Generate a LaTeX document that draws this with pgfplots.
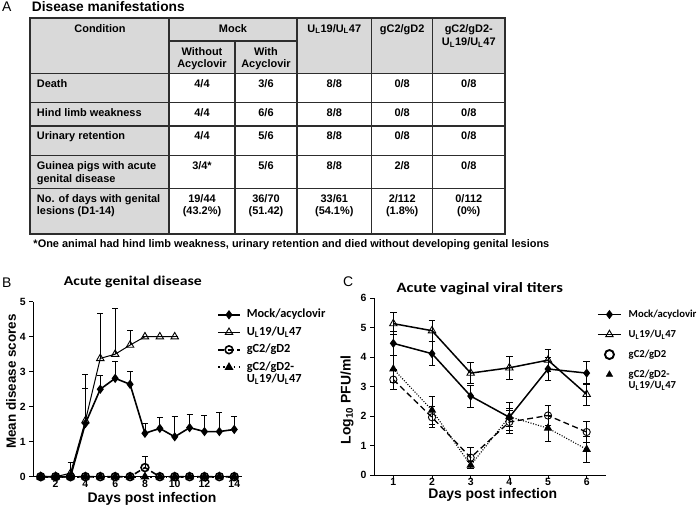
\documentclass[border=0pt]{standalone}
\usepackage{pgfplots}
\pgfplotsset{compat=1.18}
\usepackage{fontspec}
\setmainfont{Liberation Sans}
\newfontfamily\calib{Carlito}
\newfontfamily\calibw[FakeStretch=1.17]{Carlito}
\definecolor{tgray}{RGB}{217,217,217}
\definecolor{tline}{RGB}{45,45,45}
\begin{document}
\begin{tikzpicture}
\path[use as bounding box] (0,0) rectangle (700bp,514bp);
\begin{scope}[x=1bp,y=-1bp,yshift=514bp,
  tb/.style={font=\bfseries\fontsize{11}{13}\selectfont, inner sep=0pt, anchor=base},
  tl/.style={tb, anchor=base west}]
% panel labels and title
\node[anchor=base west, inner sep=0pt, font=\fontsize{14}{16}\selectfont] at (2,11.7) {A};
\node[anchor=base west, inner sep=0pt, font=\bfseries\fontsize{13.8}{16}\selectfont] at (31.7,11.7) {Disease manifestations};
\node[anchor=base west, inner sep=0pt, font=\fontsize{14}{16}\selectfont] at (2,288) {B};
\node[anchor=base west, inner sep=0pt, font=\fontsize{14}{16}\selectfont] at (343,287) {C};
% table
\fill[tgray] (30,18) rectangle (505,73.3);
\fill[tgray] (30,73.3) rectangle (169,234);
\begin{scope}[tline, line width=1.2bp]
\foreach \y in {73.3,102.3,126,155.7,188.7} \draw (30,\y) -- (505,\y);
\draw (169,41) -- (297,41);
\foreach \x in {169,297,371.7,432.7} \draw (\x,18) -- (\x,234);
\draw (235,41) -- (235,234);
\draw[line width=1.4bp] (30,18) rectangle (505,234);
\end{scope}
% header
\node[tb] at (100,32.3) {Condition};
\node[tb] at (233,32.3) {Mock};
\node[tb] at (334.3,32.3) {U\textsubscript{L}19/U\textsubscript{L}47};
\node[tb] at (402.2,32.3) {gC2/gD2};
\node[tb] at (468.8,32.3) {gC2/gD2-};
\node[tb] at (468.8,46) {U\textsubscript{L}19/U\textsubscript{L}47};
\node[tb] at (202,55.7) {Without};
\node[tb] at (202,67.5) {Acyclovir};
\node[tb] at (266,55.7) {With};
\node[tb] at (266,67.5) {Acyclovir};
% row labels
\node[tl] at (36.7,87.3) {Death};
\node[tl] at (36.7,116.7) {Hind limb weakness};
\node[tl] at (36.7,140) {Urinary retention};
\node[tl] at (36.7,169.3) {Guinea pigs with acute};
\node[tl] at (36.7,182.3) {genital disease};
\node[tl] at (36.7,202.7) {No. of days with genital};
\node[tl] at (36.7,215) {lesions (D1-14)};
% values
\foreach \a/\b/\c/\d/\e/\yy in {4/4/3/6/8/87.3, 4/4/6/6/8/116.7, 4/4/5/6/8/140}{
  \node[tb] at (202,\yy) {\a/\b};
  \node[tb] at (266,\yy) {\c/\d};
  \node[tb] at (334.3,\yy) {\e/8};
  \node[tb] at (402.2,\yy) {0/8};
  \node[tb] at (468.8,\yy) {0/8};
}
\node[tb] at (202,169.3) {3/4*};
\node[tb] at (266,169.3) {5/6};
\node[tb] at (334.3,169.3) {8/8};
\node[tb] at (402.2,169.3) {2/8};
\node[tb] at (468.8,169.3) {0/8};
\node[tb] at (202,202.7) {19/44};
\node[tb] at (202,215) {(43.2\%)};
\node[tb] at (266,202.7) {36/70};
\node[tb] at (266,215) {(51.42)};
\node[tb] at (334.3,202.7) {33/61};
\node[tb] at (334.3,215) {(54.1\%)};
\node[tb] at (402.2,202.7) {2/112};
\node[tb] at (402.2,215) {(1.8\%)};
\node[tb] at (468.8,202.7) {0/112};
\node[tb] at (468.8,215) {(0\%)};
\node[tl] at (33.3,248) {*One animal had hind limb weakness, urinary retention and died without developing genital lesions};
\end{scope}

% ---------------- Panel B ----------------
\begin{axis}[
  at={(33.3bp,37.3bp)}, anchor=south west, scale only axis,
  width=208.4bp, height=175bp,
  xmin=0.5, xmax=14.5, ymin=0, ymax=5,
  axis x line=bottom, axis y line=left,
  axis line style={-, line width=0.9bp, black},
  xtick={2,4,...,14}, ytick={0,...,5},
  tick align=outside, major tick length=4bp,
  tick style={line width=0.9bp, black},
  clip=false,
  tick label style={font=\bfseries\fontsize{10.5}{12}\selectfont},
  xticklabel style={yshift=4bp},
  /pgf/number format/assume math mode=true,
  title={Acute genital disease},
  title style={font=\calibw\bfseries\fontsize{13.5}{15}\selectfont, at={(axis description cs:0.4775,1.057)}, anchor=base, inner sep=0pt},
  xlabel={Days post infection},
  xlabel style={font=\bfseries\fontsize{14}{16}\selectfont, at={(axis description cs:0.5696,0)}, anchor=north, yshift=-15.8bp, inner sep=0pt},
  ylabel={Mean disease scores},
  ylabel style={font=\bfseries\fontsize{13.5}{16}\selectfont, at={(axis description cs:-0.107,0.544)}, anchor=center, inner sep=0pt},
  legend style={at={(axis description cs:0.8815,0.965)}, anchor=north west, draw=none, fill=none, inner sep=0pt,
    row sep=4bp, column sep=5bp, font=\calib\bfseries\fontsize{12.4}{12}\selectfont,
    nodes={inner sep=1bp, text height=8.8bp, text depth=2.7bp}},
  legend cell align=left,
  legend image code/.code={\draw[mark repeat=2,mark phase=2,#1] plot coordinates {(0bp,0bp) (11bp,0bp) (22bp,0bp)};},
  error bars/error bar style={line width=0.8bp, black, solid},
  error bars/error mark options={rotate=90, mark size=3bp, line width=0.8bp, black, solid},
]
\addplot[black, line width=1.6bp, mark=diamond*, mark size=3.4bp, mark options={solid},
  error bars/.cd, y dir=plus, y explicit] table[x=x, y=y, y error=e] {
x y e
1 0 0
2 0 0
3 0 0
4 1.52 1.0
5 2.50 0.40
6 2.81 0.48
7 2.64 0.36
8 1.24 0.28
9 1.38 0.31
10 1.14 0.59
11 1.40 0.38
12 1.29 0.45
13 1.29 0.55
14 1.35 0.36
};
\addlegendentry{Mock/acyclovir}
\addplot[black, line width=1.0bp, mark=triangle, mark size=4.3bp, mark options={solid, line width=0.9bp},
  error bars/.cd, y dir=plus, y explicit] table[x=x, y=y, y error=e] {
x y e
1 0 0
2 0 0
3 0.10 0.30
4 1.60 1.33
5 3.38 1.29
6 3.50 1.31
7 3.76 0.43
8 4.00 0
9 4.00 0
10 4.00 0
};
\addlegendentry{U\textsubscript{L}19/U\textsubscript{L}47}
\addplot[black, line width=1.6bp, dash pattern=on 6bp off 3.5bp, mark=o, mark size=3.9bp, mark options={solid, line width=1.6bp},
  error bars/.cd, y dir=plus, y explicit] table[x=x, y=y, y error=e] {
x y e
1 0 0
2 0 0
3 0 0
4 0 0
5 0 0
6 0 0
7 0 0
8 0.26 0.33
9 0 0
10 0 0
11 0 0
12 0 0
13 0 0
14 0 0
};
\addlegendentry{gC2/gD2}
\addplot[black, line width=1.6bp, dash pattern=on 1.6bp off 3.6bp, mark=triangle*, mark size=3.6bp, mark options={solid}] table[x=x, y=y] {
x y
1 0
2 0
3 0
4 0
5 0
6 0
7 0
8 0
9 0
10 0
11 0
12 0
13 0
14 0
};
\addlegendentry{\begin{tabular}[t]{@{}l@{}}gC2/gD2-\\U\textsubscript{L}19/U\textsubscript{L}47\end{tabular}}
\end{axis}

% ---------------- Panel C ----------------
\begin{axis}[
  at={(374bp,39bp)}, anchor=south west, scale only axis,
  width=232bp, height=176.7bp,
  xmin=0.5, xmax=6.5, ymin=0, ymax=6,
  axis x line=bottom, axis y line=left,
  axis line style={-, line width=0.9bp, black},
  xtick={1,...,6}, ytick={0,...,6},
  tick align=outside, major tick length=4bp,
  tick style={line width=0.9bp, black},
  clip=false,
  tick label style={font=\bfseries\fontsize{10.5}{12}\selectfont},
  xticklabel style={yshift=4.3bp},
  /pgf/number format/assume math mode=true,
  title={Acute vaginal viral titers},
  title style={font=\calibw\bfseries\fontsize{14.3}{16}\selectfont, at={(axis description cs:0.4556,1.0017)}, anchor=base, inner sep=0pt},
  xlabel={Days post infection},
  xlabel style={font=\bfseries\fontsize{14}{16}\selectfont, at={(axis description cs:0.512,0)}, anchor=north, yshift=-13.3bp, inner sep=0pt},
  ylabel={Log\textsubscript{10} PFU/ml},
  ylabel style={font=\bfseries\fontsize{14}{16}\selectfont, at={(axis description cs:-0.116,0.424)}, anchor=center, inner sep=0pt},
  legend style={at={(axis description cs:0.9612,0.946)}, anchor=north west, draw=none, fill=none, inner sep=0pt,
    row sep=7bp, column sep=6bp, font=\calib\bfseries\fontsize{10.7}{11.3}\selectfont,
    nodes={inner sep=1bp, text height=8.5bp, text depth=2.5bp}},
  legend cell align=left,
  legend image code/.code={\draw[mark repeat=2,mark phase=2,#1] plot coordinates {(0bp,0bp) (11.5bp,0bp) (23bp,0bp)};},
  error bars/error bar style={line width=0.8bp, black, solid},
  error bars/error mark options={rotate=90, mark size=3.3bp, line width=0.8bp, black, solid},
]
\addplot[black, line width=1.5bp, mark=diamond*, mark size=3.4bp, mark options={solid},
  error bars/.cd, y dir=both, y explicit] table[x=x, y=y, y error=e] {
x y e
1 4.47 0.40
2 4.12 0.40
3 2.68 0.37
4 1.96 0.30
5 3.60 0.38
6 3.46 0.40
};
\addplot[black, line width=1.5bp, mark=triangle, mark size=4.3bp, mark options={solid, line width=0.9bp, fill=white},
  error bars/.cd, y dir=both, y explicit] table[x=x, y=y, y error=e] {
x y e
1 5.14 0.38
2 4.90 0.36
3 3.46 0.36
4 3.64 0.38
5 3.90 0.37
6 2.74 0.37
};
\addplot[forget plot, black, line width=1.3bp, dash pattern=on 6bp off 3.5bp, mark=o, mark size=3.6bp, mark options={solid, line width=0.9bp},
  error bars/.cd, y dir=both, y explicit] table[x=x, y=y, y error=e] {
x y e
1 3.24 0.35
2 1.96 0.36
3 0.59 0.35
4 1.80 0.40
5 2.02 0.35
6 1.46 0.36
};
\addplot[forget plot, black, line width=1.1bp, dash pattern=on 1bp off 1.6bp, mark=triangle*, mark size=3.8bp, mark options={solid},
  error bars/.cd, y dir=both, y explicit] table[x=x, y=y, y error=e] {
x y e
1 3.60 0.46
2 2.20 0.48
3 0.33 0.12
4 1.98 0.48
5 1.59 0.44
6 0.87 0.44
};
\addlegendimage{white, mark=o, mark size=4.5bp, mark options={black, solid, line width=1.9bp}}
\addlegendimage{white, mark=triangle*, mark size=3.8bp, mark options={black, solid}}
\legend{Mock/acyclovir, U\textsubscript{L}19/U\textsubscript{L}47, gC2/gD2, {\begin{tabular}[t]{@{}l@{}}gC2/gD2-\\U\textsubscript{L}19/U\textsubscript{L}47\end{tabular}}}
\end{axis}
\end{tikzpicture}
\end{document}
